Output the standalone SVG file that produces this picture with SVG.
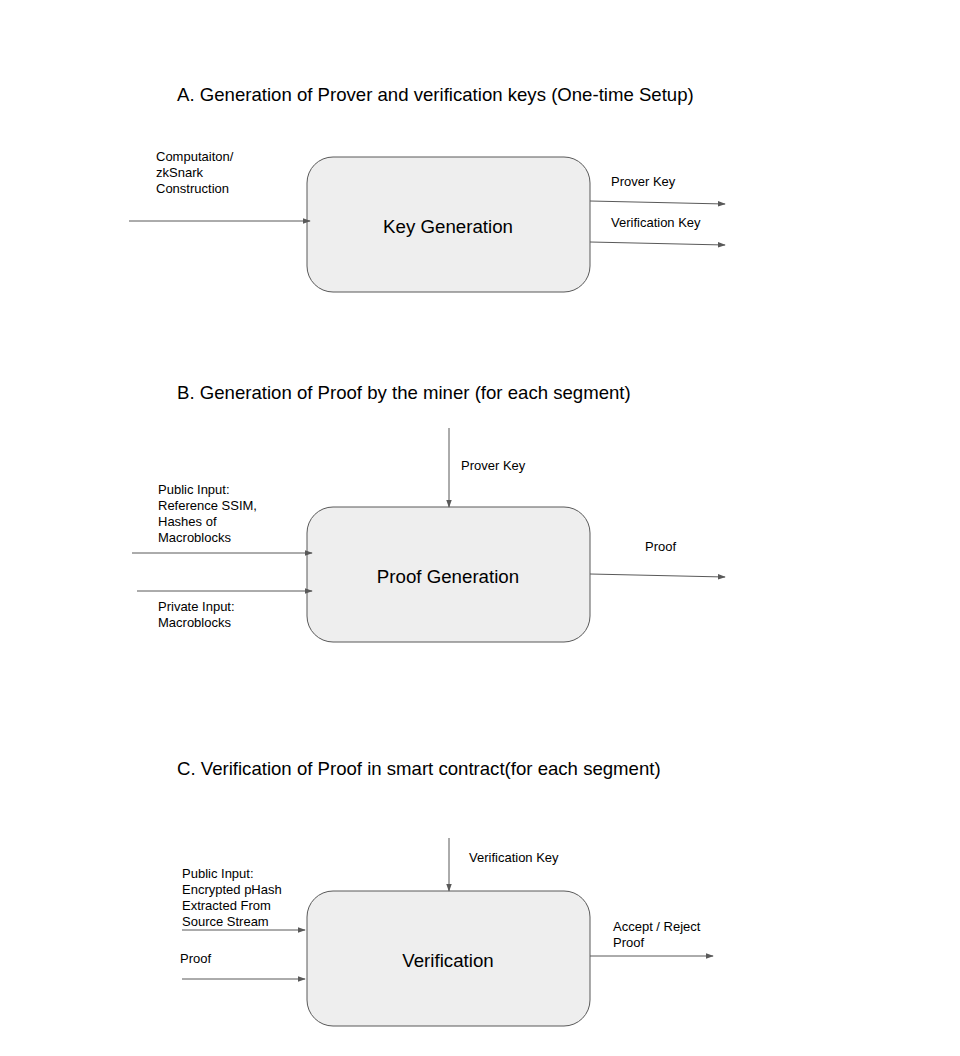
<svg xmlns="http://www.w3.org/2000/svg" width="960" height="1056" viewBox="0 0 960 1056">
  <style>
    text { font-family: "Liberation Sans", Arial, sans-serif; fill: #000; }
    .title { font-size: 18.6px; }
    .big { font-size: 18.7px; text-anchor: middle; dominant-baseline: central; }
    .lbl { font-size: 13px; }
    .box { fill: #eeeeee; stroke: #595959; stroke-width: 1; }
    .wire { fill: none; stroke: #595959; stroke-width: 1; marker-end: url(#ah); }
  </style>
  <defs>
    <marker id="ah" viewBox="0 0 10 10" refX="9" refY="5" markerWidth="8" markerHeight="8" markerUnits="userSpaceOnUse" orient="auto">
      <path d="M0,1.5 L10,5 L0,8.5 Z" fill="#595959"/>
    </marker>
  </defs>
  <rect width="960" height="1056" fill="#ffffff"/>

  <!-- section titles -->
  <text class="title" x="177" y="101">A. Generation of Prover and verification keys (One-time Setup)</text>
  <text class="title" x="177" y="399">B. Generation of Proof by the miner (for each segment)</text>
  <text class="title" x="177" y="775">C. Verification of Proof in smart contract(for each segment)</text>

  <!-- nodes -->
  <g id="key-generation">
    <rect class="box" x="307" y="157" width="283" height="135" rx="26"/>
    <text class="big" x="448" y="226">Key Generation</text>
  </g>
  <g id="proof-generation">
    <rect class="box" x="307" y="507" width="283" height="135" rx="26"/>
    <text class="big" x="448" y="576">Proof Generation</text>
  </g>
  <g id="verification">
    <rect class="box" x="307" y="891" width="283" height="135" rx="26"/>
    <text class="big" x="448" y="960">Verification</text>
  </g>

  <!-- connectors -->
  <g id="connectors">
    <line class="wire" x1="129" y1="221" x2="310" y2="221"/>
    <line class="wire" x1="590" y1="201" x2="725" y2="204"/>
    <line class="wire" x1="590" y1="242" x2="725" y2="245"/>

    <line class="wire" x1="449" y1="428" x2="449" y2="507"/>
    <line class="wire" x1="132" y1="553" x2="312" y2="553"/>
    <line class="wire" x1="137" y1="591" x2="312" y2="591"/>
    <line class="wire" x1="590" y1="574" x2="725" y2="577"/>

    <line class="wire" x1="449" y1="838" x2="449" y2="891"/>
    <line class="wire" x1="182" y1="930" x2="305" y2="930"/>
    <line class="wire" x1="182" y1="979" x2="305" y2="979"/>
    <line class="wire" x1="590" y1="956" x2="713" y2="956"/>
  </g>

  <!-- connector labels -->
  <g id="labels">
    <text class="lbl" x="156" y="161">Computaiton/</text>
    <text class="lbl" x="156" y="177">zkSnark</text>
    <text class="lbl" x="156" y="193">Construction</text>
    <text class="lbl" x="611" y="186">Prover Key</text>
    <text class="lbl" x="611" y="227">Verification Key</text>

    <text class="lbl" x="461" y="470">Prover Key</text>
    <text class="lbl" x="158" y="494">Public Input:</text>
    <text class="lbl" x="158" y="510">Reference SSIM,</text>
    <text class="lbl" x="158" y="526">Hashes of</text>
    <text class="lbl" x="158" y="542">Macroblocks</text>
    <text class="lbl" x="158" y="611">Private Input:</text>
    <text class="lbl" x="158" y="627">Macroblocks</text>
    <text class="lbl" x="645" y="551">Proof</text>

    <text class="lbl" x="469" y="862">Verification Key</text>
    <text class="lbl" x="182" y="878">Public Input:</text>
    <text class="lbl" x="182" y="894">Encrypted pHash</text>
    <text class="lbl" x="182" y="910">Extracted From</text>
    <text class="lbl" x="182" y="926">Source Stream</text>
    <text class="lbl" x="180" y="963">Proof</text>
    <text class="lbl" x="613" y="931">Accept / Reject</text>
    <text class="lbl" x="613" y="947">Proof</text>
  </g>
</svg>
